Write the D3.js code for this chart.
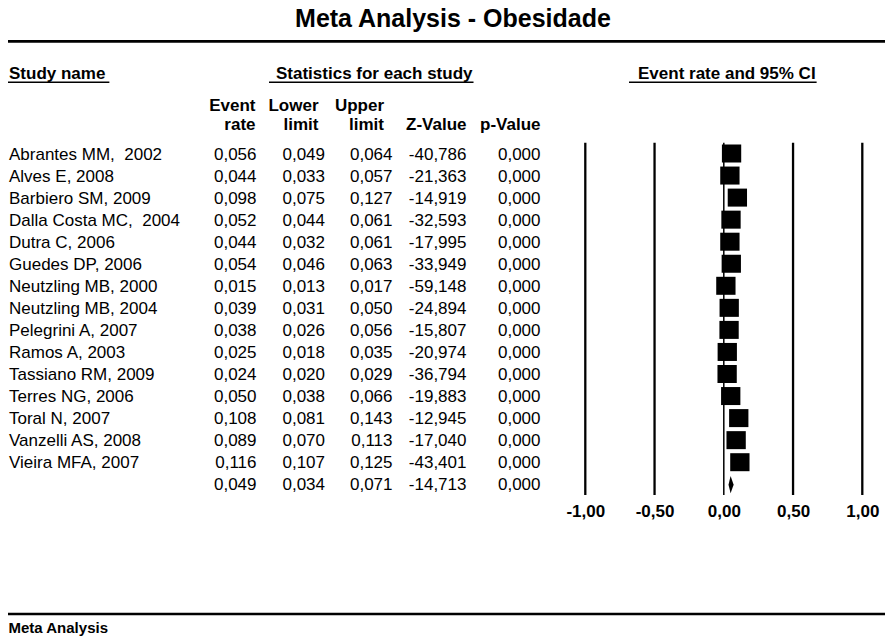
<!DOCTYPE html>
<html>
<head>
<meta charset="utf-8">
<script src="https://cdn.jsdelivr.net/npm/d3@7"></script>
<style>
  body { margin: 0; background: #fff; }
  text { font-family: Arial, "Liberation Sans", sans-serif; fill: #000; }
</style>
</head>
<body>
<div id="chart"></div>
<script>
// data
let studies = ["Abrantes MM,  2002", "Alves E, 2008", "Barbiero SM, 2009", "Dalla Costa MC,  2004",
    "Dutra C, 2006", "Guedes DP, 2006", "Neutzling MB, 2000", "Neutzling MB, 2004", "Pelegrini A, 2007",
    "Ramos A, 2003", "Tassiano RM, 2009", "Terres NG, 2006", "Toral N, 2007", "Vanzelli AS, 2008",
    "Vieira MFA, 2007"]
let eventRate = [0.056, 0.044, 0.098, 0.052, 0.044, 0.054, 0.015, 0.039, 0.038, 0.025, 0.024, 0.050, 0.108, 0.089, 0.116]
let lowerLimit = [0.049, 0.033, 0.075, 0.044, 0.032, 0.046, 0.013, 0.031, 0.026, 0.018, 0.020, 0.038, 0.081, 0.070, 0.107]
let upperLimit = [0.064, 0.057, 0.127, 0.061, 0.061, 0.063, 0.017, 0.050, 0.056, 0.035, 0.029, 0.066, 0.143, 0.113, 0.125]
let zValue = [-40.786, -21.363, -14.919, -32.593, -17.995, -33.949, -59.148, -24.894, -15.807, -20.974,
    -36.794, -19.883, -12.945, -17.040, -43.401]
let pValue = [0, 0, 0, 0, 0, 0, 0, 0, 0, 0, 0, 0, 0, 0, 0]

let summaryRate = 0.049, summaryLower = 0.034, summaryUpper = 0.071, summaryZ = -14.713, summaryP = 0.000
let axisTicks = [-1, -0.5, 0, 0.5, 1]

let width = 885, height = 639
let rowTop = 159.5, rowStep = 22.05
let plotTop = 142.7, plotBottom = 495

let locale = d3.formatLocale({decimal: ",", thousands: ".", grouping: [3], currency: ["", ""], minus: "-"})
let f3 = locale.format(".3f"), f2 = locale.format(".2f")

let svg = d3.select("#chart").append("svg")
    .attr("width", width)
    .attr("height", height)

// title + rules
svg.append("text").attr("x", 453).attr("y", 27)
    .attr("text-anchor", "middle").style("font-size", "25px").style("font-weight", "bold")
    .text("Meta Analysis - Obesidade")
svg.append("line").attr("x1", 8).attr("x2", width).attr("y1", 41.3).attr("y2", 41.3)
    .attr("stroke", "#000").attr("stroke-width", 2.7)
svg.append("line").attr("x1", 8).attr("x2", width).attr("y1", 614).attr("y2", 614)
    .attr("stroke", "#000").attr("stroke-width", 2.7)
svg.append("text").attr("x", 8.5).attr("y", 633)
    .style("font-size", "15px").style("font-weight", "bold")
    .text("Meta Analysis")

// underlined group headers
function underlined(x, txt, lead, trail) {
    let t = svg.append("text").attr("x", x).attr("y", 78.5)
        .style("font-size", "17px").style("font-weight", "bold").text(txt)
    let w = t.node().getComputedTextLength()
    svg.append("line").attr("x1", x - lead).attr("x2", x + w + trail)
        .attr("y1", 82.3).attr("y2", 82.3).attr("stroke", "#000").attr("stroke-width", 1.4)
}
underlined(9, "Study name", 1, 4)
underlined(276, "Statistics for each study", 7, 1)
underlined(638, "Event rate and 95% CI", 9, 1)

// column headers (right aligned)
let cols = [
    {x: 256.5, hx: 255.5, lines: ["Event", "rate"]},
    {x: 325, hx: 318.5, lines: ["Lower", "limit"]},
    {x: 392.5, hx: 384, lines: ["Upper", "limit"]},
    {x: 466.5, hx: 466.5, lines: ["", "Z-Value"]},
    {x: 540.5, hx: 540.5, lines: ["", "p-Value"]}
]
cols.forEach(function (c) {
    c.lines.forEach(function (l, k) {
        svg.append("text").attr("x", c.hx).attr("y", 111 + k * 19)
            .attr("text-anchor", "end").style("font-size", "17px").style("font-weight", "bold")
            .text(l)
    })
})

let yS = d3.scaleLinear().domain([0, studies.length]).range([rowTop, rowTop + rowStep * studies.length])

// table rows
let rows = studies.map(function (s, i) {
    return {name: s, vals: [eventRate[i], lowerLimit[i], upperLimit[i], zValue[i], pValue[i]]}
})
rows.push({name: "", vals: [summaryRate, summaryLower, summaryUpper, summaryZ, summaryP]})

rows.forEach(function (r, i) {
    svg.append("text").attr("x", 9).attr("y", yS(i))
        .style("font-size", "17px").style("white-space", "pre").text(r.name)
    r.vals.forEach(function (v, j) {
        svg.append("text").attr("x", cols[j].x).attr("y", yS(i))
            .attr("text-anchor", "end").style("font-size", "17px").text(f3(v))
    })
})

// forest plot
let xS = d3.scaleLinear().domain([-1, 1]).range([585.3, 862.3])

svg.append("g").selectAll("line")
    .data(axisTicks)
    .enter()
    .append("line")
    .attr("x1", function (d) {return xS(d);})
    .attr("x2", function (d) {return xS(d);})
    .attr("y1", plotTop).attr("y2", plotBottom)
    .attr("stroke", "#000")
    .attr("stroke-width", function (d) {return d === 0 ? 1.5 : 2.3;})

let axis = svg.append("g")
    .attr("transform", "translate(0," + 517 + ")")
    .call(d3.axisBottom(xS).tickValues(axisTicks).tickSize(0).tickFormat(f2))
axis.select(".domain").remove()
axis.selectAll("text").attr("y", 0).attr("dy", null)
    .attr("fill", "#000")
    .style("font-size", "17px").style("font-weight", "bold")
    .style("font-family", "Arial, 'Liberation Sans', sans-serif")

let marks = svg.append("g")
marks.selectAll(".ci")
    .data(eventRate)
    .enter()
    .append("line")
    .attr("x1", function (d, i) {return xS(lowerLimit[i]);})
    .attr("x2", function (d, i) {return xS(upperLimit[i]);})
    .attr("y1", function (d, i) {return yS(i) - 6;})
    .attr("y2", function (d, i) {return yS(i) - 6;})
    .attr("stroke", "#000").attr("stroke-width", 1.5)

let sqW = 19.3, sqH = 18
marks.selectAll("rect")
    .data(eventRate)
    .enter()
    .append("rect")
    .attr("x", function (d) {return xS(d) - sqW / 2;})
    .attr("y", function (d, i) {return yS(i) - 6 - sqH / 2;})
    .attr("width", sqW)
    .attr("height", sqH)
    .attr("fill", "#000")

// summary diamond
let dy = yS(studies.length) - 5.6, dh = 8.7
marks.append("path")
    .attr("d", "M" + xS(summaryLower) + "," + dy +
        "L" + xS(summaryRate) + "," + (dy - dh) +
        "L" + xS(summaryUpper) + "," + dy +
        "L" + xS(summaryRate) + "," + (dy + dh) + "Z")
    .attr("fill", "#000")
</script>
</body>
</html>
